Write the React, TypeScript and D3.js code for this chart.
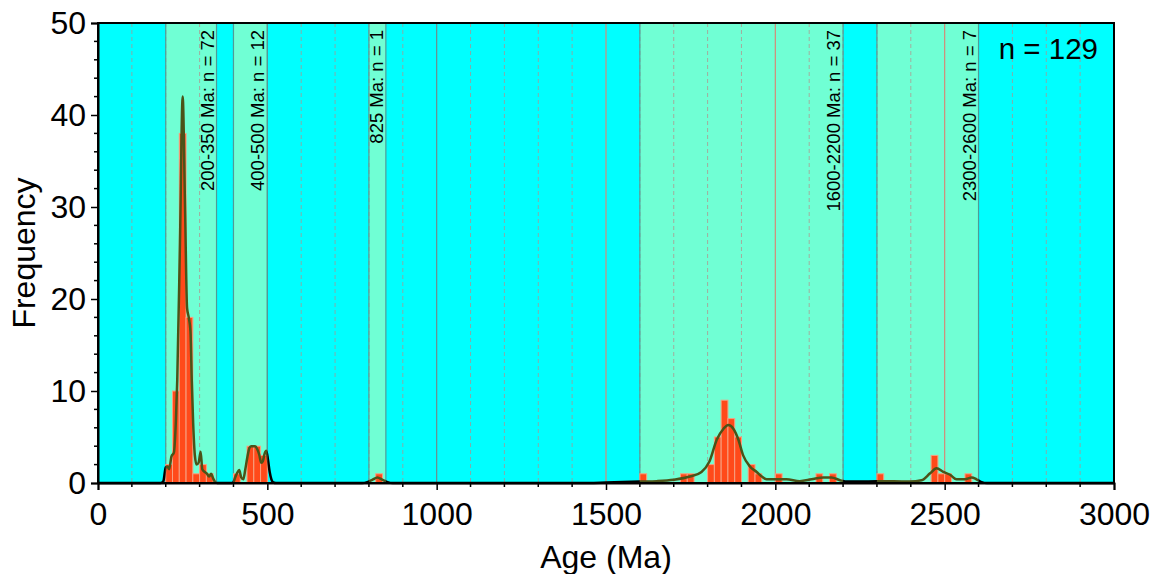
import React, { useEffect, useRef } from "react";
import * as d3 from "d3";

// histogram (20 Ma bins)
const binStarts = [200, 220, 240, 260, 280, 300, 320, 400, 440, 460, 480, 820, 1600, 1720, 1740, 1800, 1820, 1840, 1860, 1880, 1920, 1940, 2000, 2120, 2160, 2300, 2460, 2480, 2500, 2560];
const binCounts = [2, 10, 38, 18, 1, 2, 1, 1, 4, 4, 3, 1, 1, 1, 1, 2, 5, 9, 7, 5, 2, 1, 1, 1, 1, 1, 3, 1, 1, 1];
const binWidth = 20;

// age groups (shaded)
const bandFrom = [200, 400, 800, 1600, 2300];
const bandTo = [350, 500, 850, 2200, 2600];
const bandLabels = ["200-350 Ma: n = 72", "400-500 Ma: n = 12", "825 Ma: n = 1", "1600-2200 Ma: n = 37", "2300-2600 Ma: n = 7"];

// density curve
const kdeAge = [0, 185, 193, 200, 205, 210, 217, 224, 230, 234, 242, 250, 257, 263, 268, 273, 277, 281, 286, 291, 297, 303, 308, 315, 322, 328, 334, 340, 346, 352,
  395, 400, 405, 411, 417, 423, 429, 435, 441, 447, 452, 458, 464, 470, 476, 482, 487, 492, 497, 502, 507, 512, 518, 525,
  780, 795, 810, 825, 840, 855, 870,
  1450, 1500, 1550, 1600, 1650, 1700, 1748, 1782, 1805, 1827, 1847, 1861, 1876, 1891, 1905, 1925, 1945, 1960, 1974, 2004, 2033, 2072, 2107, 2142, 2166, 2191, 2211, 2250, 2300, 2350, 2397, 2432, 2457, 2476, 2496, 2516, 2535, 2560, 2580, 2594, 2609, 2625, 3000];
const kdeValue = [0, 0, 0.2, 1.7, 1.8, 1.5, 2.9, 3.3, 6.8, 11.2, 26, 42, 30, 19, 18, 16.5, 11, 6.5, 3, 2, 2.2, 3.4, 1.5, 1.2, 1.0, 0.7, 1.0, 0.5, 0.1, 0,
  0, 0.1, 0.6, 1.1, 1.4, 0.6, 0.4, 1.5, 2.8, 3.8, 4.0, 4.0, 4.0, 3.7, 3.1, 2.2, 2.4, 3.2, 3.5, 2.5, 1.2, 0.4, 0.05, 0,
  0, 0.1, 0.35, 0.6, 0.35, 0.1, 0,
  0, 0.05, 0.1, 0.15, 0.2, 0.35, 0.7, 1.2, 2.3, 4.7, 5.9, 6.3, 5.9, 4.7, 3.0, 1.8, 1.2, 0.7, 0.4, 0.4, 0.4, 0.2, 0.4, 0.6, 0.6, 0.3, 0.15, 0.15, 0.2, 0.2, 0.15, 0.3, 1.05, 1.6, 1.2, 0.9, 0.4, 0.4, 0.6, 0.4, 0.1, 0, 0];

const xTicks = [0, 500, 1000, 1500, 2000, 2500, 3000];
const yTicks = [0, 10, 20, 30, 40, 50];
const sampleLabel = "n = 129";

const font = "'Liberation Sans', Arial, sans-serif";

const App = () => {
  const ref = useRef<SVGSVGElement>(null);

  useEffect(() => {
    const svg = d3.select(ref.current);
    svg.selectAll("*").remove();

    const left = 98, right = 1114, top = 23, bottom = 483;
    const x = d3.scaleLinear([0, 3000], [left, right]);
    const y = d3.scaleLinear([0, 50], [bottom, top]);

    const defs = svg.append("defs");
    defs.append("clipPath").attr("id", "inBands")
      .selectAll("rect").data(bandFrom).join("rect")
      .attr("x", (d) => x(d)).attr("y", top)
      .attr("width", (d, i) => x(bandTo[i]) - x(d)).attr("height", bottom - top);
    // outside of the bands
    const outside = [[0, ...bandTo], [...bandFrom, 3000]];
    defs.append("clipPath").attr("id", "outBands")
      .selectAll("rect").data(outside[0]).join("rect")
      .attr("x", (d) => x(d)).attr("y", top - 5)
      .attr("width", (d, i) => Math.max(0, x(outside[1][i]) - x(d))).attr("height", bottom - top + 10);

    // background
    svg.append("rect").attr("x", left).attr("y", top)
      .attr("width", right - left).attr("height", bottom - top).attr("fill", "#00ffff");

    svg.append("g").selectAll("rect").data(bandFrom).join("rect")
      .attr("x", (d) => x(d)).attr("y", top)
      .attr("width", (d, i) => x(bandTo[i]) - x(d)).attr("height", bottom - top)
      .attr("fill", "#70ffd4");

    // grid
    const minor = d3.range(100, 3000, 100).filter((v) => v % 500 !== 0);
    svg.append("g").selectAll("line").data(minor).join("line")
      .attr("x1", (d) => x(d)).attr("x2", (d) => x(d))
      .attr("y1", top).attr("y2", bottom)
      .attr("stroke", "#b88a86").attr("stroke-opacity", 0.7)
      .attr("stroke-width", 1).attr("stroke-dasharray", "4,3");
    svg.append("g").selectAll("line").data([500, 1000, 1500, 2000, 2500]).join("line")
      .attr("x1", (d) => x(d)).attr("x2", (d) => x(d))
      .attr("y1", top).attr("y2", bottom)
      .attr("stroke", (d) => (d <= 1000 ? "#6f8c8c" : "#d48a78"))
      .attr("stroke-width", 1.2);

    // band edges
    svg.append("g").selectAll("line").data([...bandFrom, ...bandTo]).join("line")
      .attr("x1", (d) => x(d)).attr("x2", (d) => x(d))
      .attr("y1", top).attr("y2", bottom)
      .attr("stroke", "#4f9c98").attr("stroke-width", 1.2);

    // bars
    svg.append("g").selectAll("rect").data(binStarts).join("rect")
      .attr("x", (d) => x(d)).attr("width", (d) => x(d + binWidth) - x(d))
      .attr("y", (d, i) => y(binCounts[i]))
      .attr("height", (d, i) => y(0) - y(binCounts[i]))
      .attr("fill", "#ff4a1a").attr("stroke", "#f7a080").attr("stroke-width", 1);

    // density curve
    const line = d3.line<number>()
      .x((d) => x(d)).y((d, i) => y(kdeValue[i]))
      .curve(d3.curveMonotoneX);
    svg.append("path").attr("d", line(kdeAge))
      .attr("fill", "none").attr("stroke", "#4b5318").attr("stroke-width", 2.5)
      .attr("clip-path", "url(#inBands)");
    svg.append("path").attr("d", line(kdeAge))
      .attr("fill", "none").attr("stroke", "#000").attr("stroke-width", 2.5)
      .attr("clip-path", "url(#outBands)");

    // group labels
    svg.append("g").selectAll("text").data(bandLabels).join("text")
      .attr("transform", (d, i) => `translate(${x(bandTo[i]) - 3},30) rotate(-90)`)
      .attr("text-anchor", "end")
      .attr("font-family", font).attr("font-size", 18.5).attr("fill", "#000")
      .text((d) => d);

    // frame
    svg.append("rect").attr("x", left).attr("y", top)
      .attr("width", right - left).attr("height", bottom - top)
      .attr("fill", "none").attr("stroke", "#000").attr("stroke-width", 2);

    // axes
    const xAxis = svg.append("g").attr("transform", `translate(0,${bottom})`)
      .call(d3.axisBottom(x).tickValues(xTicks).tickFormat(d3.format("d")).tickSize(7).tickPadding(12));
    xAxis.append("g").selectAll("line").data(d3.range(100, 3000, 100).filter((v) => v % 500 !== 0)).join("line")
      .attr("x1", (d) => x(d)).attr("x2", (d) => x(d)).attr("y1", 0).attr("y2", 4)
      .attr("stroke", "#000").attr("stroke-width", 1.5);
    const yAxis = svg.append("g").attr("transform", `translate(${left},0)`)
      .call(d3.axisLeft(y).tickValues(yTicks).tickSize(7).tickPadding(5));
    yAxis.append("g").selectAll("line").data(d3.range(2, 50, 2).filter((v) => v % 10 !== 0)).join("line")
      .attr("y1", (d) => y(d)).attr("y2", (d) => y(d)).attr("x1", 0).attr("x2", -4)
      .attr("stroke", "#000").attr("stroke-width", 1.5);
    [xAxis, yAxis].forEach((g) => {
      g.select(".domain").attr("stroke-width", 2);
      g.selectAll(".tick line").attr("stroke-width", 1.5);
      g.selectAll(".tick text").attr("font-family", font).attr("font-size", 32).attr("fill", "#000");
    });

    svg.append("text").attr("x", 1098).attr("y", 59).attr("text-anchor", "end")
      .attr("font-family", font).attr("font-size", 29.5).text(sampleLabel);

    svg.append("text").attr("x", (left + right) / 2).attr("y", 568).attr("text-anchor", "middle")
      .attr("font-family", font).attr("font-size", 32).text("Age (Ma)");
    svg.append("text").attr("transform", `translate(35,${(top + bottom) / 2}) rotate(-90)`)
      .attr("text-anchor", "middle")
      .attr("font-family", font).attr("font-size", 32).text("Frequency");
  }, []);

  return (
    <div>
      <svg ref={ref} width={1154} height={574} style={{ position: "absolute", left: 0, top: 0, background: "#fff" }} />
    </div>
  );
};

export default App;
